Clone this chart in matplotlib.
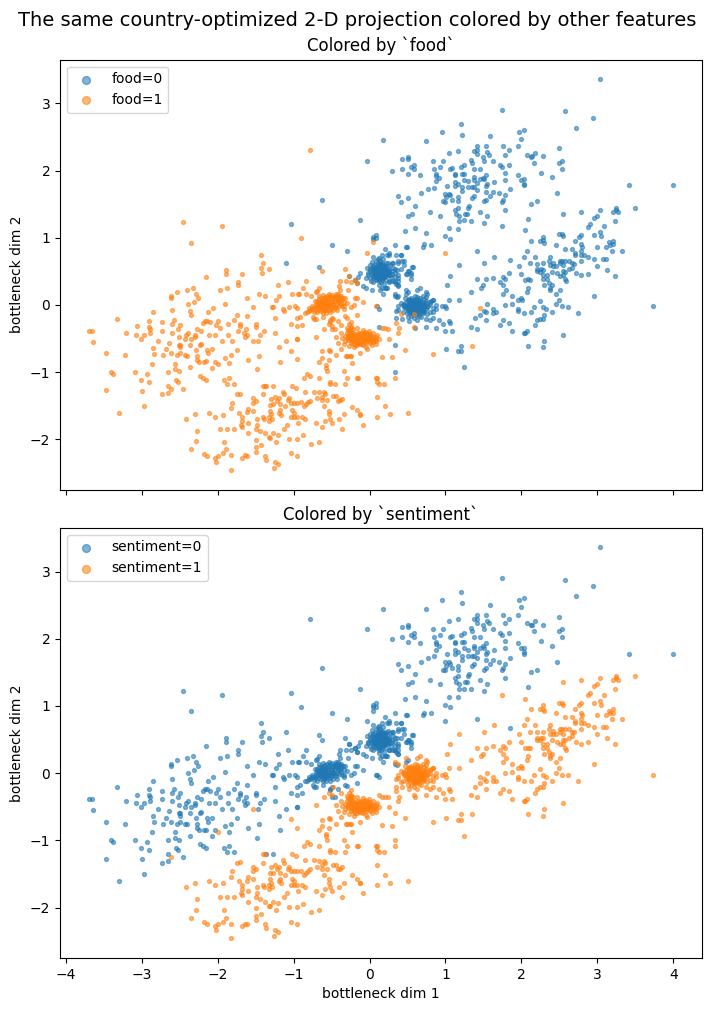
#!/usr/bin/env python3
"""2-D bottleneck projection of the country model, colored by food and sentiment."""

import matplotlib
matplotlib.use('Agg')
import matplotlib.pyplot as plt
import numpy as np

# (x, y) in bottleneck space, one list per (food, sentiment) combination
food0_sent0 = [
    (3.04,3.36),(1.75,2.90),(2.58,2.88),(2.94,2.79),(2.72,2.64),(1.21,2.70),(0.96,2.57),(1.22,2.53),(1.59,2.51),
    (1.97,2.58),(2.04,2.61),(2.00,2.47),(0.18,2.45),(0.75,2.44),(1.41,2.36),(1.54,2.36),(1.76,2.36),(1.95,2.36),
    (2.49,2.33),(1.17,2.29),(1.37,2.29),(1.41,2.30),(1.42,2.24),(1.55,2.27),(1.57,2.23),(1.83,2.30),(1.79,2.23),
    (1.04,2.26),(2.07,2.23),(2.12,2.20),(2.18,2.26),(2.14,2.21),(2.28,2.21),(0.51,2.20),(0.43,2.17),(0.50,2.17),
    (0.84,2.14),(0.97,2.14),(1.34,2.16),(1.35,2.11),(1.49,2.20),(1.51,2.14),(1.62,2.14),(2.17,2.12),(2.54,2.14),
    (2.49,2.11),(2.53,2.03),(1.72,2.09),(1.75,2.06),(1.84,2.08),(1.25,2.09),(1.20,2.06),(0.59,2.08),(0.54,2.05),
    (0.58,2.02),(0.43,2.03),(0.29,2.00),(0.93,2.06),(0.85,2.02),(1.06,2.03),(1.09,2.04),(1.38,2.03),(1.46,2.02),
    (1.78,1.97),(2.26,1.97),(0.51,1.95),(0.67,1.93),(0.87,1.95),(0.88,1.92),(1.12,1.95),(1.13,1.93),(1.22,1.95),
    (1.24,1.95),(1.53,1.93),(1.96,1.93),(2.40,1.90),(0.91,1.89),(1.38,1.90),(1.25,1.86),(1.30,1.84),(1.37,1.86),
    (1.45,1.87),(1.50,1.89),(1.51,1.87),(1.79,1.86),(2.03,1.87),(1.99,1.86),(0.87,1.84),(1.12,1.83),(1.17,1.80),
    (1.42,1.81),(1.55,1.80),(1.64,1.83),(2.03,1.80),(2.04,1.78),(1.02,1.77),(1.12,1.77),(1.22,1.75),(1.30,1.75),
    (1.35,1.75),(1.38,1.75),(1.54,1.77),(0.77,1.72),(0.85,1.74),(1.85,1.72),(1.22,1.69),(1.41,1.71),(0.68,1.66),
    (1.54,1.68),(1.63,1.68),(1.71,1.66),(2.47,1.66),(3.41,1.78),(3.99,1.78),(1.00,1.65),(1.04,1.65),(1.06,1.63),
    (1.59,1.62),(1.78,1.63),(1.38,1.62),(0.37,1.62),(0.50,1.59),(1.01,1.60),(1.16,1.60),(1.35,1.59),(1.08,1.56),
    (1.16,1.54),(0.97,1.54),(1.00,1.53),(1.51,1.54),(1.53,1.56),(1.76,1.56),(1.74,1.53),(2.21,1.54),(0.41,1.53),
    (2.13,1.50),(0.60,1.48),(1.31,1.48),(1.29,1.45),(1.16,1.45),(1.13,1.42),(1.46,1.39),(1.78,1.41),(0.79,1.39),
    (1.28,1.36),(1.26,1.35),(1.14,1.35),(0.93,1.33),(1.18,1.32),(1.55,1.33),(0.56,1.35),(0.51,1.32),(2.08,1.28),
    (1.18,1.25),(1.25,1.26),(1.33,1.25),(1.51,1.22),(0.60,1.14),(1.04,1.14),(1.17,1.13),(0.47,1.10),(0.75,1.07),
    (1.00,1.02),(1.06,0.98),(0.72,0.90),(0.71,0.86),(0.81,0.89),(1.41,0.80),(1.85,0.67),
    # upper left strays
    (-0.03,2.14),(-0.63,1.56),(-1.03,1.20),(-0.12,1.26),(-0.50,0.89),(-0.30,0.81),(-1.10,0.62),(-0.67,0.57),
    # around the tight cluster
    (0.08,1.04),(0.05,1.01),(0.04,0.98),(0.09,0.99),(0.33,0.89),(0.49,0.86),(0.48,0.86),(0.21,0.84),(0.16,0.75),
    (0.26,0.75),(0.05,0.71),(0.35,0.75),(0.41,0.75),(0.43,0.65),(0.37,0.63),(0.30,0.62),(0.57,0.57),(0.51,0.50),
    (0.49,0.46),(0.54,0.47),(0.41,0.53),(0.36,0.52),(0.38,0.44),(0.37,0.40),(0.34,0.34),(0.30,0.35),(0.37,0.29),
    (0.33,0.41),(0.22,0.26),(0.17,0.25),(0.18,0.17),(0.14,0.23),(0.26,0.34),(-0.03,0.55),(-0.02,0.47),(0.00,0.40),
    (0.05,0.34),(-0.27,0.43),(-0.13,0.47),(-0.15,0.41),(-0.19,0.37),(-0.17,0.32),(-0.05,0.40),(-0.09,0.28),
    (-0.04,0.25),(0.03,0.22),(0.25,0.77),(0.23,0.74),(0.42,0.75),(0.38,0.65),(0.45,0.65),(0.31,0.62),(0.45,0.59),
    (0.56,0.57),(0.33,0.53),(0.52,0.50),(0.54,0.44),(0.54,0.38),(0.48,0.46),(0.37,0.35),(0.32,0.35),(0.35,0.31),
    (0.37,0.28),(0.51,0.20),(0.48,0.17),(0.20,0.26),(0.23,0.26),(0.34,0.14),(0.36,0.12),(0.10,-0.02),(0.12,-0.06),
    # tight cluster
    (0.15,0.50),(0.12,0.52),(0.18,0.48),(0.10,0.47),(0.20,0.53),(0.14,0.44),(0.16,0.57),(0.07,0.53),(0.23,0.47),
    (0.11,0.58),(0.19,0.42),(0.05,0.48),(0.25,0.52),(0.13,0.38),(0.17,0.63),(0.03,0.55),(0.27,0.45),(0.09,0.42),
    (0.21,0.58),(0.06,0.60),(0.14,0.52),(0.17,0.45),(0.11,0.49),(0.20,0.47),(0.08,0.51),(0.24,0.55),(0.16,0.40),
    (0.12,0.61),(0.01,0.50),(0.29,0.50),(0.15,0.34),(0.18,0.68),(0.04,0.42),(0.28,0.41),(0.08,0.37),(0.22,0.37),
    (0.09,0.65),(0.24,0.63),(0.00,0.59),(-0.02,0.45),(0.31,0.55),(0.13,0.70),(0.19,0.31),(0.12,0.30),(0.02,0.36),
    (0.26,0.35),(0.33,0.47),(0.03,0.64),(0.27,0.60),(0.13,0.46),(0.16,0.54),(0.10,0.55),(0.19,0.51),(0.15,0.47),
    (0.12,0.43),(0.22,0.43),(0.06,0.45),(0.17,0.59),(0.14,0.66),(0.23,0.50),
    (0.06,0.50),(0.09,0.53),(0.12,0.55),(0.15,0.53),(0.18,0.55),(0.21,0.50),(0.24,0.47),(0.21,0.44),(0.18,0.40),
    (0.15,0.43),(0.12,0.46),(0.09,0.45),(0.06,0.41),(0.10,0.39),(0.13,0.41),(0.16,0.37),(0.19,0.45),(0.22,0.53),
    (0.14,0.59),(0.11,0.63),(0.08,0.57),(0.05,0.52),(0.03,0.46),(0.26,0.49),(0.20,0.56),(0.15,0.61),(0.17,0.51),
    (0.13,0.49),(0.10,0.51),(0.16,0.49),(0.18,0.52),(0.07,0.47),(0.24,0.44),(0.19,0.60),(0.13,0.35),(0.11,0.68),
    (0.22,0.62),(0.30,0.46),(0.00,0.53),(0.04,0.58),
]

food0_sent1 = [
    (3.50,1.45),(3.24,1.45),(3.21,1.39),(3.27,1.38),(3.24,1.41),(3.03,1.41),(2.99,1.33),(2.95,1.30),(2.79,1.38),
    (2.55,1.35),(3.23,1.25),(2.90,1.20),(2.88,1.16),(3.09,1.17),(1.75,1.17),(2.05,1.11),(3.03,1.08),(2.95,1.04),
    (3.05,1.02),(2.49,1.05),(2.54,1.05),(2.55,1.02),(2.78,1.04),(2.76,1.01),(2.70,0.95),(2.28,1.01),(2.24,0.95),
    (2.29,0.96),(2.30,0.92),(2.13,0.95),(3.21,0.95),(3.15,0.93),(3.21,0.90),(3.16,0.89),(3.11,0.87),(3.00,0.87),
    (2.79,0.90),(2.80,0.86),(2.46,0.89),(2.58,0.84),(2.67,0.83),(2.79,0.81),(2.70,0.78),(2.70,0.74),(3.19,0.80),
    (3.32,0.80),(2.07,0.80),(2.18,0.72),(2.03,0.71),(1.64,0.71),(2.37,0.71),(2.79,0.74),(2.83,0.74),(2.88,0.71),
    (2.96,0.68),(3.07,0.69),(3.11,0.68),(2.79,0.65),(2.11,0.62),(1.51,0.62),(1.18,0.59),(2.20,0.61),(2.29,0.62),
    (2.36,0.65),(2.41,0.63),(2.37,0.59),(2.41,0.58),(2.46,0.58),(2.51,0.65),(2.54,0.66),(2.57,0.65),(2.51,0.62),
    (2.55,0.59),(2.63,0.65),(2.66,0.62),(2.69,0.61),(1.97,0.58),(2.99,0.58),(2.21,0.53),(2.26,0.53),(2.29,0.52),
    (2.20,0.50),(2.24,0.49),(2.66,0.55),(2.63,0.53),(2.55,0.50),(2.58,0.49),(3.13,0.52),(2.40,0.49),(2.47,0.47),
    (2.72,0.47),(2.87,0.46),(2.79,0.44),(1.84,0.47),(1.99,0.46),(1.06,0.43),(2.28,0.44),(2.33,0.44),(2.51,0.43),
    (2.55,0.44),(3.23,0.43),(1.42,0.38),(1.53,0.38),(1.63,0.40),(1.76,0.41),(1.78,0.38),(2.05,0.37),(2.08,0.38),
    (2.11,0.37),(2.28,0.38),(2.33,0.38),(2.57,0.38),(2.59,0.35),(1.72,0.34),(2.36,0.32),(1.49,0.29),(1.02,0.29),
    (1.76,0.29),(2.30,0.29),(2.40,0.29),(2.08,0.25),(1.47,0.25),(1.80,0.23),(2.37,0.23),(2.38,0.26),(2.51,0.23),
    (1.34,0.20),(2.07,0.20),(1.76,0.16),(2.46,0.16),(2.95,0.14),(1.88,0.13),(2.00,0.11),(2.01,0.08),(1.95,0.07),
    (1.18,0.07),(1.04,0.07),(2.49,0.07),(2.24,0.06),(1.55,0.01),(1.78,0.00),(1.87,0.02),(2.46,0.01),(2.16,-0.03),
    (2.54,-0.02),(2.61,-0.03),(2.28,-0.03),(2.32,-0.06),(1.63,-0.06),(1.66,-0.11),(1.62,-0.12),(1.95,-0.06),
    (1.96,-0.09),(1.51,-0.09),(1.54,-0.11),(2.04,-0.12),(2.13,-0.11),(2.40,-0.11),(2.75,-0.12),(3.73,-0.02),
    (1.46,-0.15),(2.30,-0.15),(1.39,-0.20),(1.54,-0.23),(1.76,-0.23),(2.29,-0.21),(2.21,-0.23),(2.24,-0.21),
    (1.83,-0.27),(1.72,-0.30),(2.18,-0.30),(1.33,-0.33),(1.42,-0.36),(1.88,-0.38),(1.09,-0.39),(1.00,-0.39),
    (0.97,-0.29),(0.88,-0.35),(2.03,-0.41),(2.05,-0.41),(2.07,-0.39),(2.55,-0.44),(2.30,-0.54),(2.08,-0.61),
    (2.28,-0.63),(1.20,-0.61),(1.01,-0.66),(1.17,-0.69),(1.20,-0.69),(1.24,-0.93),
    # around the tight cluster
    (0.67,0.26),(0.63,0.22),(0.48,0.22),(0.75,0.19),(0.76,0.16),(0.71,0.13),(0.33,0.16),(0.37,0.13),(0.83,0.08),
    (0.84,0.07),(0.80,0.01),(0.87,0.00),(0.96,-0.02),(1.00,-0.01),(1.01,-0.05),(0.88,-0.06),(0.37,-0.02),(0.35,-0.09),
    (0.38,-0.07),(0.35,-0.20),(0.43,-0.21),(0.51,-0.18),(0.52,-0.24),(0.58,-0.20),(0.63,-0.23),(0.74,-0.21),
    (0.79,-0.23),(0.83,-0.20),(0.92,-0.23),(1.04,-0.24),(1.06,-0.27),(0.60,-0.35),(0.74,-0.33),(0.33,-0.59),
    (0.33,-1.00),(0.13,-0.33),
    # tight cluster
    (0.60,-0.03),(0.57,0.00),(0.63,-0.06),(0.54,-0.04),(0.66,0.00),(0.58,-0.09),(0.61,0.04),(0.51,0.00),(0.69,-0.04),
    (0.55,0.05),(0.64,-0.11),(0.48,-0.05),(0.72,0.02),(0.57,-0.13),(0.62,0.09),(0.46,0.02),(0.74,-0.06),(0.52,-0.10),
    (0.67,0.06),(0.50,0.07),(0.60,0.01),(0.56,-0.06),(0.65,-0.03),(0.53,0.02),(0.68,-0.08),(0.59,0.07),(0.61,-0.15),
    (0.45,-0.03),(0.77,-0.01),(0.71,-0.12),(0.49,-0.12),(0.55,0.11),(0.67,0.11),(0.42,0.03),(0.80,0.05),(0.65,-0.16),
    (0.54,-0.17),(0.76,-0.13),(0.60,0.13),(0.44,-0.11),(0.83,-0.04),(0.72,0.09),(0.47,0.10),(0.79,-0.10),(0.63,0.03),
    (0.58,-0.02),(0.62,-0.02),(0.52,-0.07),(0.70,-0.01),(0.56,0.03),(0.64,0.05),(0.66,-0.09),(0.50,-0.02),(0.74,0.06),
    (0.59,-0.06),(0.61,-0.09),(0.75,0.12),(0.81,0.06),(0.84,-0.11),(0.68,-0.18),
    (0.49,-0.01),(0.52,0.04),(0.55,0.01),(0.58,0.03),(0.61,0.00),(0.64,0.02),(0.67,-0.02),(0.70,0.02),(0.73,-0.02),
    (0.70,-0.07),(0.66,-0.05),(0.62,-0.08),(0.59,-0.04),(0.56,-0.09),(0.53,-0.05),(0.50,-0.08),(0.47,-0.01),(0.54,-0.12),
    (0.59,-0.11),(0.63,-0.13),(0.67,-0.12),(0.72,-0.09),(0.76,-0.03),(0.75,0.03),(0.69,0.05),(0.65,0.08),(0.60,0.06),
    (0.57,0.08),(0.53,0.07),(0.48,0.04),(0.44,0.00),(0.62,0.01),(0.57,-0.03),(0.64,-0.01),(0.53,-0.01),(0.60,-0.07),
    (0.55,-0.02),(0.68,0.02),(0.62,-0.04),(0.51,-0.04),(0.70,-0.10),(0.63,0.12),(0.52,0.09),
]

food1_sent0 = [
    (-0.78,2.30),(-2.45,1.23),(-1.94,1.17),(-2.35,0.92),(-0.90,0.99),(-0.03,0.78),(0.05,0.93),(1.00,0.77),
    (-1.43,0.75),(-1.40,0.62),(-1.43,0.55),(-1.32,0.53),(-1.41,0.47),(-1.89,0.52),(-1.89,0.46),(-1.68,0.46),
    (-2.15,0.41),(-0.83,0.35),(-1.07,0.34),(-1.20,0.29),(-1.73,0.34),(-1.73,0.29),(-0.87,0.26),(-1.19,0.13),
    (-1.23,0.08),(-1.87,0.25),(-1.97,0.22),(-2.33,0.26),(-2.40,0.22),(-2.53,0.19),(-2.28,0.16),(-2.26,0.11),
    (-2.61,0.14),(-2.61,0.10),(-1.46,0.17),(-1.37,0.13),(-1.61,0.11),(-1.02,0.16),(-0.94,0.16),(-0.93,0.17),
    (-0.83,0.17),(-0.77,0.14),(-2.31,0.04),(-2.39,0.01),(-1.90,0.02),(-2.60,-0.08),(-2.37,-0.09),(-2.35,-0.15),
    (-2.06,-0.05),(-2.12,-0.11),(-1.54,-0.03),(-1.29,-0.03),(-1.27,-0.03),(-1.14,-0.06),(-1.12,-0.09),(-1.06,-0.03),
    (-0.98,-0.02),(-0.96,-0.05),(-2.85,-0.11),(-1.74,-0.15),(-1.61,-0.17),(-1.24,-0.20),(-3.32,-0.21),(-2.90,-0.24),
    (-2.73,-0.26),(-2.57,-0.23),(-2.60,-0.29),(-2.49,-0.30),(-2.52,-0.36),(-3.06,-0.32),(-2.90,-0.33),(-2.89,-0.36),
    (-2.16,-0.24),(-2.14,-0.24),(-2.10,-0.26),(-2.19,-0.27),(-2.00,-0.24),(-2.02,-0.30),(-1.97,-0.35),(-1.78,-0.23),
    (-1.86,-0.29),(-1.70,-0.29),(-1.70,-0.32),(-1.50,-0.29),(-1.49,-0.33),(-3.69,-0.39),(-3.66,-0.38),(-3.20,-0.42),
    (-3.07,-0.44),(-2.97,-0.44),(-3.01,-0.50),(-2.89,-0.42),(-2.73,-0.39),(-2.60,-0.42),(-2.51,-0.47),(-2.41,-0.44),
    (-2.43,-0.51),(-2.39,-0.42),(-2.35,-0.50),(-2.30,-0.44),(-2.30,-0.48),(-2.27,-0.36),(-2.22,-0.39),(-2.11,-0.44),
    (-2.04,-0.44),(-1.86,-0.45),(-1.73,-0.39),(-1.62,-0.36),(-1.65,-0.42),(-1.61,-0.44),(-1.64,-0.48),(-1.39,-0.38),
    (-1.44,-0.45),(-1.25,-0.42),(-1.04,-0.29),(-0.95,-0.32),(-0.89,-0.30),(-1.10,-0.53),(-0.96,-0.50),(-0.95,-0.50),
    (-3.64,-0.55),(-2.78,-0.54),(-2.64,-0.56),(-2.68,-0.66),(-2.49,-0.60),(-2.51,-0.59),(-2.49,-0.63),(-2.37,-0.59),
    (-2.23,-0.59),(-2.22,-0.58),(-1.94,-0.54),(-1.81,-0.53),(-1.47,-0.54),(-2.85,-0.64),(-2.28,-0.67),(-2.14,-0.67),
    (-2.07,-0.66),(-2.12,-0.72),(-1.74,-0.67),(-1.19,-0.63),(-3.47,-0.72),(-3.22,-0.75),(-2.84,-0.73),(-2.72,-0.75),
    (-2.61,-0.72),(-2.53,-0.75),(-2.49,-0.72),(-2.43,-0.75),(-2.40,-0.76),(-2.27,-0.76),(-2.27,-0.82),(-2.24,-0.85),
    (-2.18,-0.85),(-2.15,-0.84),(-2.03,-0.85),(-1.90,-0.79),(-1.82,-0.75),(-1.85,-0.87),(-1.46,-0.76),(-1.60,-0.82),
    (-1.18,-0.85),(-2.07,-0.94),(-2.36,-0.93),(-2.86,-0.88),(-2.56,-0.88),(-2.56,-0.96),(-2.51,-0.99),(-1.48,-0.96),
    (-3.41,-1.00),(-3.38,-1.03),(-3.09,-1.00),(-2.93,-1.02),(-2.65,-1.00),(-2.23,-1.05),(-2.19,-1.09),(-2.15,-1.12),
    (-1.85,-1.08),(-1.91,-1.12),(-1.87,-1.18),(-1.79,-1.18),(-3.01,-1.11),(-2.90,-1.15),(-2.55,-1.11),(-2.52,-1.14),
    (-2.65,-1.21),(-3.47,-1.27),(-2.99,-1.28),(-2.45,-1.25),(-2.73,-1.33),(-2.65,-1.31),(-2.97,-1.50),(-3.30,-1.61),
    (-1.27,-1.21),(-1.36,-1.21),
    # around the tight cluster
    (-0.32,0.53),(-0.63,0.50),(-0.27,0.43),(-0.39,0.35),(-0.31,0.35),(-0.24,0.34),(-0.19,0.37),(-0.17,0.32),
    (-0.40,0.28),(-0.39,0.22),(-0.28,0.23),(-0.66,0.25),(-0.70,0.20),(-0.69,0.21),(-0.32,0.10),(-0.19,0.11),
    (-0.16,0.11),(-0.08,0.05),(-0.21,0.00),(-0.24,-0.03),(-0.33,-0.02),(-0.33,-0.06),(-0.17,-0.15),(0.09,-0.02),
    (-0.73,-0.21),(-0.75,-0.18),(-0.70,-0.21),(-0.95,-0.20),(-0.91,-0.18),(-0.61,-0.18),(-0.52,-0.23),(-0.50,-0.20),
    (-0.52,-0.25),(-0.41,-0.24),(-0.32,-0.17),(-0.30,-0.19),(-0.50,-0.36),(-0.45,-0.36),
    # tight cluster
    (-0.62,0.00),(-0.58,0.03),(-0.65,-0.03),(-0.60,-0.05),(-0.66,0.03),(-0.55,-0.02),(-0.69,-0.04),(-0.63,0.06),
    (-0.57,0.08),(-0.52,0.02),(-0.71,0.00),(-0.60,0.11),(-0.67,0.09),(-0.54,-0.07),(-0.74,-0.05),(-0.64,-0.09),
    (-0.50,-0.03),(-0.78,-0.08),(-0.82,-0.11),(-0.85,-0.12),(-0.76,-0.02),(-0.69,-0.11),(-0.57,-0.12),(-0.47,0.00),
    (-0.45,0.06),(-0.43,0.10),(-0.40,0.13),(-0.47,0.12),(-0.50,0.09),(-0.37,0.08),(-0.42,0.04),(-0.38,0.14),
    (-0.44,0.16),(-0.49,0.15),(-0.35,0.11),(-0.33,0.04),(-0.40,-0.01),(-0.36,-0.02),(-0.44,-0.04),(-0.48,-0.08),
    (-0.30,0.03),(-0.61,0.15),(-0.56,0.13),(-0.66,0.14),(-0.53,0.16),(-0.72,0.06),(-0.61,-0.12),(-0.52,-0.11),
    (-0.43,-0.08),(-0.65,0.01),(-0.59,-0.01),(-0.61,0.04),(-0.56,0.05),(-0.51,0.06),(-0.63,-0.06),(-0.57,-0.04),
    (-0.69,0.06),(-0.45,0.10),(-0.41,0.08),(-0.73,-0.10),(-0.80,-0.05),
    (-0.64,0.00),(-0.61,-0.02),(-0.58,0.00),(-0.55,0.01),(-0.53,-0.02),(-0.57,-0.07),(-0.60,-0.08),(-0.63,-0.03),
    (-0.67,-0.01),(-0.70,-0.02),(-0.68,-0.07),(-0.72,-0.07),(-0.76,-0.06),(-0.65,0.05),(-0.62,0.08),(-0.59,0.06),
    (-0.55,0.08),(-0.53,0.10),(-0.49,0.05),(-0.48,0.02),(-0.46,0.09),(-0.44,0.13),(-0.41,0.11),(-0.38,0.10),
    (-0.39,0.05),(-0.43,0.01),(-0.46,-0.03),(-0.51,-0.06),(-0.37,0.02),(-0.64,0.11),(-0.58,0.12),(-0.69,0.03),
    (-0.60,0.02),(-0.56,-0.03),(-0.50,0.01),(-0.52,0.13),(-0.42,0.16),(-0.80,-0.09),
]

food1_sent1 = [
    (-1.54,-0.54),(-0.70,-0.48),(-1.03,-0.68),(-0.95,-0.81),(-0.52,-0.68),(-0.62,-0.69),(-0.63,-0.79),(-0.67,-0.85),
    (-0.54,-0.82),(-0.44,-0.75),(-0.57,-0.90),(-0.57,-0.94),(-0.56,-0.99),(-0.33,-0.99),(-0.23,-0.87),(-0.31,-0.76),
    (-0.26,-0.76),(-0.86,-1.09),(-0.82,-1.02),(-0.78,-1.05),(-0.67,-1.08),(-0.52,-1.15),(-0.52,-1.18),(-0.45,-1.17),
    (-0.32,-1.17),(-0.29,-1.09),(-0.17,-1.08),(-0.15,-1.08),(0.08,-1.08),(0.10,-1.08),(0.13,-1.18),(0.10,-1.15),
    (-1.40,-1.21),(-1.38,-1.21),(-1.02,-1.20),(-0.97,-1.24),(-0.85,-1.29),(-1.14,-1.29),(-1.12,-1.33),(-1.40,-1.33),
    (-1.74,-1.33),(-1.70,-1.32),(-1.54,-1.39),(-1.50,-1.43),(-1.53,-1.46),(-1.81,-1.46),(-1.83,-1.54),(-1.30,-1.40),
    (-1.24,-1.37),(-1.19,-1.39),(-1.22,-1.43),(-1.18,-1.48),(-1.27,-1.48),(-1.31,-1.49),(-1.06,-1.39),(-1.07,-1.42),
    (-1.04,-1.46),(-1.11,-1.51),(-0.99,-1.46),(-0.95,-1.46),(-0.90,-1.45),(-0.81,-1.45),(-0.78,-1.43),(-0.86,-1.51),
    (-0.83,-1.48),(-0.73,-1.29),(-0.66,-1.30),(-0.60,-1.30),(-0.59,-1.33),(-0.69,-1.39),(-0.62,-1.37),(-0.62,-1.42),
    (-0.56,-1.42),(-0.48,-1.36),(-0.44,-1.36),(-0.41,-1.43),(-0.36,-1.40),(-0.39,-1.42),(-0.60,-1.51),(-0.23,-1.52),
    (-0.16,-1.57),(-0.13,-1.63),(-0.12,-1.64),(-0.53,-1.58),(-0.54,-1.63),(-0.33,-1.63),(-0.40,-1.69),(-0.58,-1.72),
    (-0.52,-1.70),(-0.50,-1.76),(-0.71,-1.76),(-0.63,-1.82),(-0.36,-1.84),(-0.09,-1.78),(0.10,-1.66),(0.10,-1.37),
    (-0.85,-1.70),(-0.89,-1.66),(-0.94,-1.75),(-1.02,-1.57),(-1.00,-1.61),(-0.99,-1.66),(-1.04,-1.66),(-0.95,-1.66),
    (-1.18,-1.57),(-1.19,-1.61),(-1.16,-1.64),(-1.31,-1.58),(-1.30,-1.63),(-1.40,-1.66),(-1.32,-1.67),(-1.28,-1.69),
    (-1.32,-1.72),(-1.48,-1.70),(-1.39,-1.69),(-1.60,-1.55),(-1.54,-1.58),(-1.61,-1.60),(-1.72,-1.61),(-1.68,-1.66),
    (-1.68,-1.72),(-1.69,-1.78),(-1.68,-1.82),(-1.60,-1.75),(-1.48,-1.79),(-1.44,-1.87),(-1.49,-1.85),(-1.08,-1.78),
    (-1.12,-1.84),(-1.37,-1.91),(-1.33,-1.97),(-1.31,-1.98),(-1.27,-1.91),(-1.20,-1.93),(-1.60,-1.91),(-1.06,-1.99),
    (-0.96,-1.99),(-0.87,-1.94),(-1.23,-2.04),(-1.49,-2.01),(-1.43,-2.09),(-1.49,-2.12),(-1.50,-2.19),(-0.66,-2.04),
    (-0.77,-2.07),(-1.03,-2.21),(-0.96,-2.25),(-1.37,-2.25),(-1.36,-2.30),(-1.24,-2.33),(-1.20,-2.37),(-1.26,-2.42),
    (-1.82,-2.46),(-1.82,-2.24),(-1.89,-2.15),(-1.93,-2.21),(-1.91,-2.04),(-1.68,-2.27),(-1.64,-2.24),(-1.61,-2.25),
    (-2.02,-2.34),(-2.04,-2.27),(-2.00,-2.25),(-2.14,-2.25),(-2.18,-2.22),(-2.35,-2.15),(-2.28,-2.03),(-2.27,-1.87),
    (-2.41,-1.69),(-2.30,-1.63),(-2.11,-1.61),(-2.04,-1.66),(-1.93,-1.64),(-1.97,-1.85),(-1.87,-1.84),(-1.78,-1.85),
    (-2.61,-1.25),(-2.00,-0.88),
    # around the tight cluster
    (-0.37,-0.30),(-0.48,-0.21),(-0.53,-0.29),(-0.60,-0.36),(-0.49,-0.32),(-0.38,-0.42),(-0.44,-0.48),(-0.42,-0.57),
    (-0.37,-0.65),(-0.53,-0.67),(-0.30,-0.76),(-0.24,-0.76),(-0.13,-0.72),(-0.03,-0.65),(0.17,-0.35),(0.21,-0.35),
    (0.24,-0.36),(0.26,-0.51),(0.37,-0.42),(0.35,-0.27),(0.39,-0.35),(0.47,-0.67),(0.84,-0.73),(0.29,-0.78),
    (0.16,-0.77),(0.34,-1.09),(0.19,-1.18),(0.21,-1.51),(0.27,-1.63),(0.51,-1.61),(1.35,-0.61),(1.45,-0.05),
    (0.42,-0.13),(0.58,-0.14),(0.59,-0.33),
    # tight cluster
    (-0.13,-0.47),(-0.17,-0.50),(-0.09,-0.50),(-0.20,-0.46),(-0.05,-0.47),(-0.14,-0.53),(-0.11,-0.43),(-0.24,-0.48),
    (-0.02,-0.50),(-0.18,-0.55),(-0.07,-0.55),(-0.15,-0.41),(-0.22,-0.42),(-0.27,-0.44),(0.01,-0.46),(-0.03,-0.42),
    (-0.12,-0.58),(-0.21,-0.53),(0.03,-0.52),(-0.26,-0.37),(-0.24,-0.32),(-0.27,-0.29),(-0.29,-0.34),(-0.22,-0.36),
    (-0.30,-0.41),(-0.32,-0.46),(-0.28,-0.52),(-0.24,-0.57),(-0.17,-0.60),(-0.08,-0.60),(0.00,-0.56),(0.06,-0.49),
    (0.09,-0.53),(0.10,-0.45),(0.05,-0.42),(-0.01,-0.38),(-0.09,-0.37),(-0.16,-0.35),(-0.32,-0.53),(-0.34,-0.58),
    (-0.27,-0.61),(-0.20,-0.63),(-0.05,-0.62),(0.03,-0.60),(0.08,-0.58),(0.12,-0.50),(-0.13,-0.50),(-0.16,-0.46),
    (-0.10,-0.46),(-0.19,-0.49),(-0.06,-0.51),(-0.12,-0.54),(-0.14,-0.44),(-0.03,-0.54),(-0.23,-0.52),(0.01,-0.51),
    (-0.02,-0.45),(-0.08,-0.42),(-0.36,-0.49),(-0.25,-0.25),
    (-0.12,-0.48),(-0.15,-0.49),(-0.11,-0.52),(-0.16,-0.53),(-0.19,-0.52),(-0.22,-0.49),(-0.25,-0.45),(-0.20,-0.43),
    (-0.17,-0.44),(-0.13,-0.42),(-0.08,-0.45),(-0.04,-0.44),(-0.01,-0.47),(0.02,-0.49),(0.04,-0.47),(0.07,-0.52),
    (0.05,-0.55),(0.01,-0.54),(-0.04,-0.57),(-0.09,-0.53),(-0.14,-0.57),(-0.19,-0.59),(-0.23,-0.55),(-0.26,-0.51),
    (-0.28,-0.47),(-0.27,-0.40),(-0.24,-0.40),(-0.25,-0.34),(-0.28,-0.37),(-0.06,-0.48),(-0.03,-0.48),(-0.10,-0.58),
    (-0.18,-0.47),(-0.08,-0.51),(0.00,-0.43),(-0.21,-0.58),(-0.30,-0.49),(-0.22,-0.47),(-0.06,-0.40),(0.08,-0.47),
]

features = ['food', 'sentiment']

pts_by_group = {(0, 0): food0_sent0, (0, 1): food0_sent1, (1, 0): food1_sent0, (1, 1): food1_sent1}
points = np.array([p for grp in pts_by_group.values() for p in grp])
labels = {
    'food': np.array([k[0] for k, grp in pts_by_group.items() for _ in grp]),
    'sentiment': np.array([k[1] for k, grp in pts_by_group.items() for _ in grp]),
}

fig, axes = plt.subplots(2, 1, figsize=(7.11, 10.11), dpi=100, sharex=True)
fig.subplots_adjust(left=0.0845, right=0.987, top=0.941, bottom=0.0524, hspace=0.0884)

for ax, feat in zip(axes, features):
    for val in (0, 1):
        mask = labels[feat] == val
        ax.scatter(points[mask, 0], points[mask, 1], s=8, alpha=0.55, label=f'{feat}={val}')
    ax.set_title(f'Colored by `{feat}`')
    ax.set_ylabel('bottleneck dim 2')
    ax.legend(loc='upper left', markerscale=2)
axes[1].set_xlabel('bottleneck dim 1')

fig.suptitle('The same country-optimized 2-D projection colored by other features', fontsize=14, x=0.502, y=0.9895)
fig.savefig('out.png', dpi=100)
plt.close(fig)
